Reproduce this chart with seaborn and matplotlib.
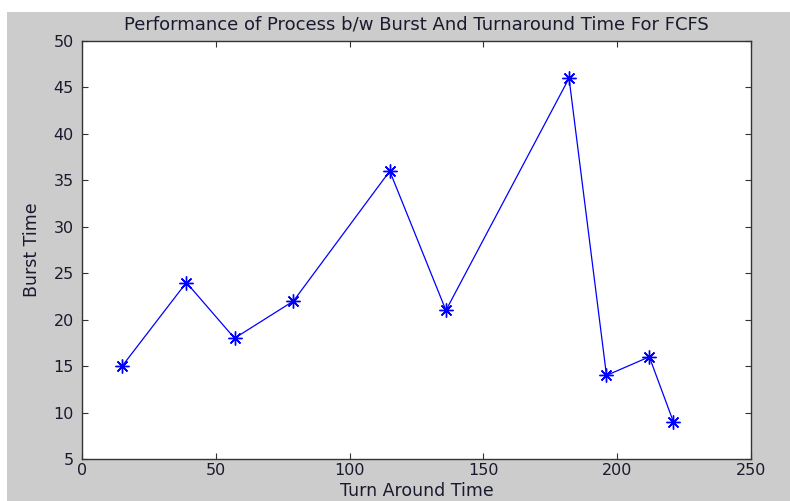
import matplotlib
matplotlib.use("Agg")
import matplotlib.pyplot as plt
from matplotlib.patches import Rectangle
import pandas as pd
import seaborn as sns

# FCFS: turnaround time (cumulative) vs burst time
turnaround = [15, 39, 57, 79, 115, 136, 182, 196, 212, 221]
burst = [15, 24, 18, 22, 36, 21, 46, 14, 16, 9]
x_ticks = [0, 50, 100, 150, 200, 250]
y_ticks = [5, 10, 15, 20, 25, 30, 35, 40, 45, 50]

df = pd.DataFrame({"Turn Around Time": turnaround, "Burst Time": burst})

sns.set_style("ticks")
plt.rcParams["font.family"] = ["DejaVu Sans"]
fs = 11.5
txt = "#1a1a2e"

fig = plt.figure(figsize=(7.9, 5.01), dpi=100)
fig.patch.set_facecolor("white")
# matlab grey figure panel
fig.patches.append(Rectangle((7 / 790, 0), 783 / 790, 489 / 501,
                             transform=fig.transFigure, facecolor="#cccccc",
                             edgecolor="none", zorder=-10))

ax = fig.add_axes([82 / 790, 42 / 501, 669 / 790, 418 / 501])
ax.set_facecolor("white")

# matlab style asterisk marker
sns.lineplot(data=df, x="Turn Around Time", y="Burst Time", ax=ax,
             color="#0000ff", linewidth=0.9, marker=(8, 2, 0), markersize=10,
             markeredgecolor="#0000ff", markeredgewidth=1.0, sort=False)

ax.set_xlim(0, 250)
ax.set_ylim(5, 50)
ax.set_xticks(x_ticks)
ax.set_yticks(y_ticks)
ax.tick_params(direction="in", length=4, width=0.8, colors="#333333",
               labelcolor=txt, labelsize=fs, top=True, right=True,
               labeltop=False, labelright=False)
ax.tick_params(axis="y", pad=6)
ax.tick_params(axis="x", pad=3)
for s in ax.spines.values():
    s.set_visible(True)
    s.set_color("#333333")
    s.set_linewidth(1.0)

ax.set_xlabel("Turn Around Time", fontsize=12.5, color=txt, labelpad=3)
ax.set_ylabel("Burst Time", fontsize=12.5, color=txt, labelpad=9)
ax.set_title("Performance of Process b/w Burst And Turnaround Time For FCFS",
             fontsize=13, color=txt, pad=8)

fig.savefig("out.png", dpi=100, facecolor=fig.get_facecolor())
